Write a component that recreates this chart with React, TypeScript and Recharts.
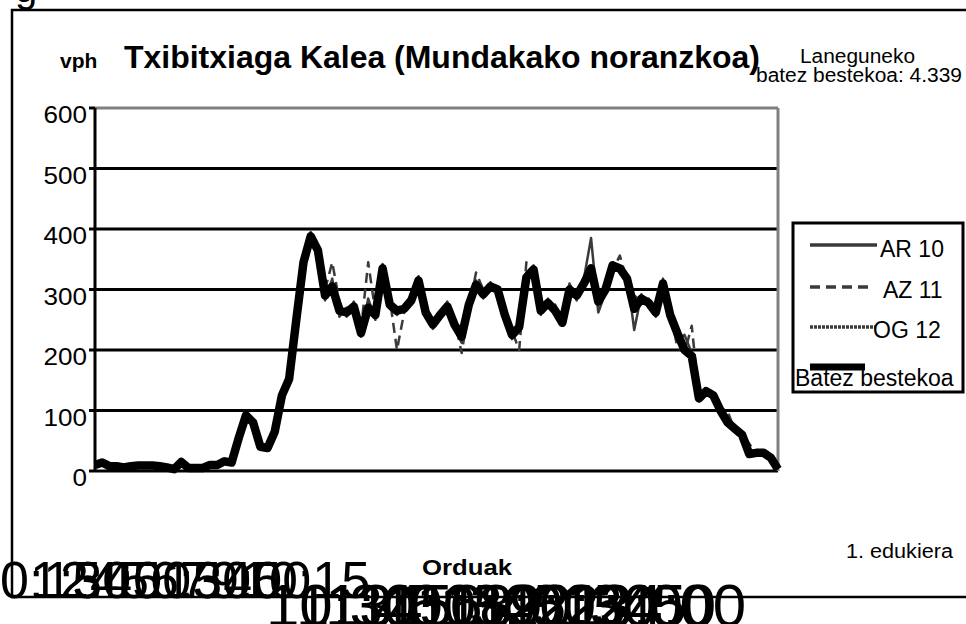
import React from 'react';
import { CartesianGrid, Line, LineChart, ReferenceLine, XAxis, YAxis } from 'recharts';

const FONT = '"Liberation Sans", Arial, Helvetica, sans-serif';

// quarter-hour counts (vph), 0:15 .. 24:00
const ar10 = [
  8, 16, 6, 10, 4, 9, 8, 11, 7, 9,
  5, 2, 18, 4, 6, 3, 12, 8, 18, 12,
  50, 95, 82, 36, 40, 62, 128, 150, 255, 350,
  395, 362, 282, 318, 255, 270, 265, 222, 285, 250,
  342, 268, 258, 275, 290, 322, 255, 235, 262, 280,
  235, 212, 282, 315, 285, 312, 296, 250, 218, 230,
  328, 340, 258, 285, 260, 240, 310, 282, 318, 385,
  262, 295, 345, 330, 325, 233, 292, 270, 255, 318,
  250, 218, 225, 195, 115, 135, 128, 98, 78, 72,
  58, 26, 32, 28, 20, 2,
];

const az11 = [
  12, 12, 10, 7, 8, 6, 10, 8, 11, 7,
  7, 4, 13, 6, 4, 7, 9, 12, 14, 16,
  58, 88, 78, 42, 36, 68, 120, 155, 245, 338,
  382, 368, 300, 345, 280, 255, 280, 235, 345, 262,
  325, 285, 200, 262, 275, 308, 268, 250, 252, 265,
  250, 195, 268, 328, 300, 298, 308, 265, 232, 200,
  345, 325, 272, 270, 275, 252, 290, 298, 302, 320,
  298, 305, 332, 356, 315, 290, 280, 285, 268, 300,
  262, 205, 195, 240, 125, 128, 122, 105, 98, 68,
  65, 45, 28, 32, 25, 5,
];

const og12 = [
  10, 14, 8, 7, 6, 9, 9, 8, 9, 8,
  6, 3, 14, 5, 5, 5, 9, 10, 16, 14,
  57, 93, 80, 40, 38, 66, 125, 150, 250, 345,
  386, 365, 288, 300, 262, 262, 270, 230, 272, 262,
  335, 275, 270, 268, 280, 312, 265, 245, 255, 270,
  242, 225, 272, 305, 290, 305, 298, 260, 228, 240,
  318, 330, 268, 275, 262, 248, 300, 292, 308, 318,
  282, 300, 340, 335, 315, 275, 285, 280, 265, 308,
  260, 230, 198, 188, 122, 130, 126, 100, 80, 70,
  60, 28, 30, 30, 22, 3,
];

const average = [
  10, 14, 8, 8, 6, 8, 9, 9, 9, 8,
  6, 3, 15, 5, 5, 5, 10, 10, 16, 14,
  55, 92, 80, 40, 38, 65, 125, 152, 250, 345,
  388, 365, 290, 305, 265, 262, 272, 228, 270, 258,
  335, 275, 265, 268, 282, 315, 262, 242, 258, 272,
  242, 222, 275, 308, 292, 305, 300, 258, 225, 238,
  320, 333, 265, 278, 265, 245, 300, 290, 310, 335,
  280, 300, 340, 335, 318, 268, 285, 278, 262, 310,
  258, 228, 200, 190, 120, 132, 125, 100, 80, 70,
  60, 28, 30, 30, 22, 3,
];

const yTicks = [0, 100, 200, 300, 400, 500, 600];
const gridValues = [100, 200, 300, 400, 500];

// the category labels pile up on top of each other under the plot
const rowOneLabels = ['0:15', '1:30', '2:45', '4:00', '5:15', '6:30', '7:45', '9:00', '10:15'];
const rowTwoLabels = ['10:30', '11:45', '13:00', '14:15', '15:30', '16:45', '18:00', '19:15', '20:30', '21:45', '23:00', '24:00'];

const slotLabel = (i: number) => {
  const m = (i + 1) * 15;
  return `${Math.floor(m / 60)}:${String(m % 60).padStart(2, '0')}`;
};

const data = average.map((v, i) => ({
  slot: i,
  time: slotLabel(i),
  ar10: ar10[i],
  az11: az11[i],
  og12: og12[i],
  avg: v,
}));

const series = [
  { key: 'ar10', name: 'AR 10', stroke: '#3a3a3a', width: 2.5, dash: undefined as string | undefined },
  { key: 'az11', name: 'AZ 11', stroke: '#3a3a3a', width: 2.5, dash: '10 6' },
  { key: 'og12', name: 'OG 12', stroke: '#3a3a3a', width: 2.5, dash: '3 1' },
  { key: 'avg', name: 'Batez bestekoa', stroke: '#000000', width: 8.5, dash: undefined as string | undefined },
];

const legendRows = [
  { x1: 810, x2: 877, ly: 245, tx: 880, ty: 257 },
  { x1: 810, x2: 872, ly: 287, tx: 883, ty: 298 },
  { x1: 810, x2: 875, ly: 327, tx: 873, ty: 338 },
  { x1: 810, x2: 865, ly: 367, tx: 795, ty: 386 },
];

const YTick = (props: any) => {
  const { x, y, payload } = props;
  const s = String(payload.value);
  return (
    <text x={x} y={y + 15} textAnchor="end" fontSize={24} fontFamily={FONT} fill="#000"
      textLength={s.length * 14.5} lengthAdjust="spacingAndGlyphs">
      {s}
    </text>
  );
};

const App = () => {
  return (
    <div style={{ position: 'absolute', left: 0, top: 0, width: 966, height: 624, overflow: 'hidden', background: '#fff' }}>
      <LineChart
        width={966}
        height={624}
        data={data}
        margin={{ top: 108, right: 188, bottom: 153, left: 25 }}
        style={{ position: 'absolute', left: 0, top: 0 }}
      >
        <CartesianGrid horizontal={false} vertical={false} />
        <XAxis dataKey="slot" type="number" domain={[0, 95]} hide />
        <YAxis
          domain={[0, 600]}
          ticks={yTicks}
          interval={0}
          width={70}
          axisLine={{ stroke: '#000', strokeWidth: 3 }}
          tickLine={{ stroke: '#000', strokeWidth: 3 }}
          tickSize={6}
          tick={<YTick />}
        />
        {gridValues.map((v) => (
          <ReferenceLine key={v} y={v} stroke="#000" strokeWidth={3} />
        ))}
        <ReferenceLine y={0} stroke="#000" strokeWidth={3} />
        <ReferenceLine y={600} stroke="#808080" strokeWidth={3} />
        <ReferenceLine x={95} stroke="#808080" strokeWidth={3} />
        {series.map((s) => (
          <Line
            key={s.key}
            type="linear"
            dataKey={s.key}
            name={s.name}
            stroke={s.stroke}
            strokeWidth={s.width}
            strokeDasharray={s.dash}
            strokeLinejoin="round"
            dot={false}
            isAnimationActive={false}
          />
        ))}
      </LineChart>

      <svg width={966} height={624} style={{ position: 'absolute', left: 0, top: 0, pointerEvents: 'none' }}
        fontFamily={FONT}>
        <text x={15} y={2} fontSize={40} fill="#000">g</text>
        <rect x={12} y={10} width={1000} height={587} fill="none" stroke="#000" strokeWidth={2.5} />

        <text x={60} y={68} fontSize={21} fontWeight="bold" fill="#000">vph</text>
        <text x={124} y={68} fontSize={31} fontWeight="bold" fill="#000"
          textLength={636} lengthAdjust="spacingAndGlyphs">
          Txibitxiaga Kalea (Mundakako noranzkoa)
        </text>
        <text x={800} y={63} fontSize={20} fill="#000" textLength={115} lengthAdjust="spacingAndGlyphs">Laneguneko</text>
        <text x={756} y={82} fontSize={20} fill="#000" textLength={206} lengthAdjust="spacingAndGlyphs">batez bestekoa: 4.339</text>

        <rect x={793} y={223} width={170} height={169} fill="#fff" stroke="#000" strokeWidth={3} />
        {series.map((s, k) => {
          const r = legendRows[k];
          return (
            <g key={s.key}>
              <line x1={r.x1} x2={r.x2} y1={r.ly} y2={r.ly} stroke={s.stroke}
                strokeWidth={s.key === 'avg' ? 7 : 3.5} strokeDasharray={s.dash} />
              <text x={r.tx} y={r.ty} fontSize={23} fill="#000">{s.name}</text>
            </g>
          );
        })}

        <text x={422} y={575} fontSize={22} fontWeight="bold" fill="#000" textLength={90} lengthAdjust="spacingAndGlyphs">Orduak</text>
        <text x={846} y={558} fontSize={20} fill="#000" textLength={107} lengthAdjust="spacingAndGlyphs">1. edukiera</text>

        {rowOneLabels.map((t, k) => (
          <text key={t} x={0 + k * 30} y={598} fontSize={52} fill="#000">{t}</text>
        ))}
        {rowTwoLabels.map((t, k) => (
          <text key={t} x={266 + k * 30} y={626} fontSize={60} fill="#000">{t}</text>
        ))}
      </svg>
    </div>
  );
};

export default App;
